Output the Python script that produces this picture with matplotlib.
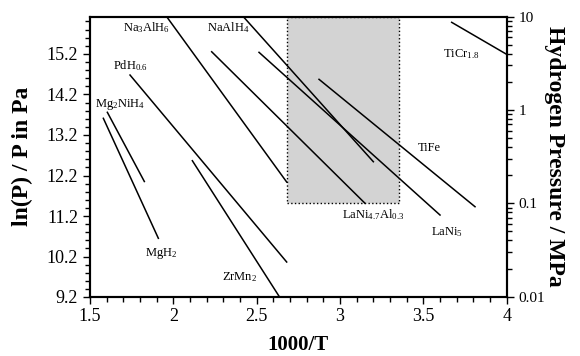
import numpy as np
import matplotlib
matplotlib.use("Agg")
import matplotlib.pyplot as plt
from matplotlib.ticker import MultipleLocator, FixedLocator, LogLocator, NullFormatter, FuncFormatter
from matplotlib.patches import Rectangle

plt.rcParams['font.family'] = ['Liberation Serif', 'DejaVu Serif']
plt.rcParams['mathtext.fontset'] = 'custom'
plt.rcParams['mathtext.rm'] = 'Liberation Serif'
plt.rcParams['mathtext.it'] = 'Liberation Serif:italic'
plt.rcParams['mathtext.bf'] = 'Liberation Serif:bold'

# van't Hoff lines: 1000/T start/end and ln(P / Pa) start/end
names = [r'MgH$_2$', r'Mg$_2$NiH$_4$', r'PdH$_{0.6}$', r'ZrMn$_2$', r'Na$_3$AlH$_6$',
         r'NaAlH$_4$', r'LaNi$_5$', r'LaNi$_{4.7}$Al$_{0.3}$', r'TiFe', r'TiCr$_{1.8}$']
x_start = [1.580, 1.604, 1.740, 2.114, 1.960, 2.420, 2.514, 2.230, 2.874, 3.670]
x_end = [1.910, 1.826, 2.680, 2.636, 2.680, 3.200, 3.600, 3.150, 3.810, 4.000]
lnp_start = [13.611, 13.759, 14.679, 12.565, 16.118, 16.118, 15.239, 15.253, 14.573, 15.979]
lnp_end = [10.651, 12.052, 10.066, 9.210, 12.039, 12.540, 11.225, 11.514, 11.430, 15.189]

# label anchor points (left edge, vertical centre)
label_x = [1.830, 1.530, 1.638, 2.292, 1.698, 2.202, 3.546, 3.012, 3.468, 3.618]
label_y = [10.288, 13.963, 14.901, 9.696, 15.838, 15.838, 10.806, 11.225, 12.878, 15.197]

# room temperature to 100 C, 0.1 to 10 MPa
box_x = [1000 / 373.0, 1000 / 298.0]
box_p = [1e5, 1e7]

ln_lo, ln_hi = np.log(1e4), np.log(1e7)

fig = plt.figure(figsize=(5.8, 3.56), dpi=100)
ax = fig.add_axes([0.1552, 0.1666, 0.7184, 0.7865])

ax.add_patch(Rectangle((box_x[0], np.log(box_p[0])), box_x[1] - box_x[0],
                       np.log(box_p[1]) - np.log(box_p[0]),
                       facecolor='#d3d3d3', edgecolor='black', linestyle=':', lw=1.0, zorder=1))

for i in range(len(names)):
    ax.plot([x_start[i], x_end[i]], [lnp_start[i], lnp_end[i]], color='black', lw=1.1, zorder=2)
    ax.text(label_x[i], label_y[i], names[i], fontsize=9, ha='left', va='center', zorder=3)

ax.set_xlim(1.5, 4.0)
ax.set_ylim(ln_lo, ln_hi)
ax.xaxis.set_major_locator(MultipleLocator(0.5))
ax.xaxis.set_minor_locator(MultipleLocator(0.1))
ax.xaxis.set_major_formatter(FuncFormatter(lambda v, p: '%g' % v))
ax.yaxis.set_major_locator(FixedLocator([ln_lo, 10.2, 11.2, 12.2, 13.2, 14.2, 15.2]))
ax.yaxis.set_minor_locator(FixedLocator(np.arange(9.4, 16.15, 0.2)))
ax.yaxis.set_major_formatter(FuncFormatter(lambda v, p: '%.1f' % v))
ax.tick_params(which='both', direction='out', labelsize=13, width=1.0, top=False, right=False)
ax.tick_params(which='major', length=5)
ax.tick_params(which='minor', length=3.5)
for s in ax.spines.values():
    s.set_linewidth(1.5)

ax.set_xlabel('1000/T', fontsize=15, fontweight='bold', labelpad=7)
ax.set_ylabel('ln(P) / P in Pa', fontsize=17, fontweight='bold', labelpad=10)

ax2 = ax.twinx()
ax2.set_yscale('log')
ax2.set_ylim(0.01, 10)
ax2.yaxis.set_major_locator(LogLocator(base=10, numticks=10))
ax2.yaxis.set_minor_locator(LogLocator(base=10, subs=np.arange(2, 10), numticks=20))
ax2.yaxis.set_minor_formatter(NullFormatter())
ax2.yaxis.set_major_formatter(FuncFormatter(lambda v, p: '%g' % v))
ax2.tick_params(which='both', direction='out', labelsize=11, width=1.0)
ax2.tick_params(which='major', length=5)
ax2.tick_params(which='minor', length=3.5)
for s in ax2.spines.values():
    s.set_linewidth(1.5)
ax2.set_ylabel('Hydrogen Pressure / MPa', fontsize=17, fontweight='bold', rotation=270, labelpad=14)

fig.savefig('out.png', dpi=100)
